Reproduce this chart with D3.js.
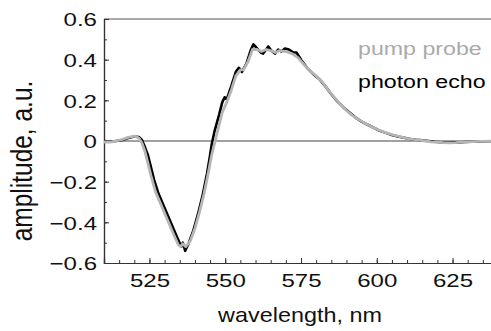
<!DOCTYPE html>
<html>
<head>
<meta charset="utf-8">
<script src="https://cdn.jsdelivr.net/npm/d3@7"></script>
<style>
  body { margin: 0; background: #fff; }
  text { font-family: "Liberation Sans", Arial, sans-serif; }
</style>
</head>
<body>
<div id="chart"></div>
<script>
// wavelength (nm) and amplitude
var echoWl = [510, 512, 514, 516, 518, 520, 521.5, 522.5, 523.5, 524.5, 525.5, 526.5, 528, 530, 532, 534, 535.5, 536, 536.8, 538, 539.5, 541, 542.5, 544, 545, 545.5, 546.5, 548, 549, 549.8, 550.5, 552, 553.5, 554.5, 555.5, 557, 558.5, 559.3, 560.5, 561.8, 562.5, 563.5, 564.2, 565.2, 566.4, 567.5, 568.5, 569.7, 571, 572.5, 573.5, 575, 577, 579, 581, 583, 585, 587, 589, 591, 593, 595, 597, 599, 601, 603, 605, 607, 609, 611, 613, 615, 617, 619, 621, 623, 625, 627, 629, 631, 633, 635, 638, 640];
var echoAmp = [0.0, -0.003, 0.0, 0.005, 0.015, 0.022, 0.02, 0.005, -0.03, -0.07, -0.13, -0.19, -0.26, -0.33, -0.40, -0.47, -0.52, -0.50, -0.54, -0.50, -0.44, -0.36, -0.27, -0.16, -0.07, -0.02, 0.05, 0.13, 0.19, 0.215, 0.205, 0.27, 0.34, 0.36, 0.34, 0.38, 0.45, 0.475, 0.455, 0.435, 0.43, 0.45, 0.465, 0.445, 0.43, 0.45, 0.44, 0.455, 0.45, 0.435, 0.435, 0.40, 0.36, 0.33, 0.305, 0.27, 0.23, 0.195, 0.165, 0.14, 0.115, 0.095, 0.08, 0.065, 0.05, 0.04, 0.03, 0.022, 0.016, 0.01, 0.006, 0.003, 0.0, -0.004, -0.006, -0.008, -0.006, -0.007, -0.005, -0.004, -0.003, -0.002, -0.001, -0.001];

var pumpWl = [510, 512, 514, 516, 518, 520, 521.5, 522.5, 523.5, 524.5, 525.5, 527, 529, 531, 533, 534.5, 535.3, 536, 537, 538.5, 540, 541.5, 543, 544.5, 545.5, 546.5, 547.5, 549, 550.5, 552, 553.5, 555, 556, 557.5, 559, 560.5, 562, 563.5, 565, 566.5, 568, 570, 572, 574, 576, 578, 580, 582, 584, 586, 588, 590, 592, 594, 596, 598, 600, 602, 604, 606, 608, 610, 612, 614, 616, 618, 620, 622, 624, 626, 628, 630, 632, 634, 636, 638, 640];
var pumpAmp = [-0.005, -0.005, 0.0, 0.008, 0.018, 0.024, 0.015, -0.01, -0.05, -0.11, -0.17, -0.25, -0.32, -0.39, -0.46, -0.51, -0.52, -0.505, -0.52, -0.49, -0.43, -0.35, -0.26, -0.15, -0.07, -0.01, 0.05, 0.14, 0.19, 0.25, 0.32, 0.35, 0.35, 0.39, 0.45, 0.45, 0.44, 0.45, 0.445, 0.435, 0.445, 0.44, 0.43, 0.41, 0.375, 0.345, 0.32, 0.29, 0.25, 0.215, 0.18, 0.15, 0.125, 0.105, 0.088, 0.072, 0.058, 0.046, 0.036, 0.027, 0.02, 0.013, 0.008, 0.004, 0.0, -0.004, -0.006, -0.008, -0.009, -0.008, -0.006, -0.004, -0.003, -0.002, -0.002, -0.001, -0.001];

var xTicks = [525, 550, 575, 600, 625];
var yTicks = [-0.6, -0.4, -0.2, 0, 0.2, 0.4, 0.6];
var yTickLabels = ["\u22120.6", "\u22120.4", "\u22120.2", "0", "0.2", "0.4", "0.6"];
var seriesNames = ["pump probe", "photon echo"];

var W = 491, H = 331;
var margin = { top: 19, left: 104, bottom: 68 };
var plotRight = 498;

var svg = d3.select("#chart").append("svg")
    .attr("width", W)
    .attr("height", H);

var x = d3.scaleLinear().domain([510, 640]).range([margin.left, plotRight]);
var y = d3.scaleLinear().domain([-0.6, 0.6]).range([H - margin.bottom, margin.top]);

// frame top + zero line
svg.append("line")
    .attr("x1", x(510)).attr("x2", x(640))
    .attr("y1", y(0.6)).attr("y2", y(0.6))
    .attr("stroke", "#555").attr("stroke-width", 1.2);
svg.append("line")
    .attr("x1", x(510)).attr("x2", x(640))
    .attr("y1", y(0)).attr("y2", y(0))
    .attr("stroke", "#444").attr("stroke-width", 1.2);

// minor ticks
var xMinor = d3.range(510, 641, 5);
var yMinor = d3.range(-6, 7).map(function (d) { return d / 10; });

var xAxis = svg.append("g")
    .attr("transform", "translate(0," + y(-0.6) + ")")
    .call(d3.axisBottom(x).tickValues(xMinor).tickSize(-3).tickFormat(""));
var xMajor = svg.append("g")
    .attr("transform", "translate(0," + y(-0.6) + ")")
    .call(d3.axisBottom(x).tickValues(xTicks).tickSize(-5).tickFormat(d3.format("d")));

var yAxis = svg.append("g")
    .attr("transform", "translate(" + x(510) + ",0)")
    .call(d3.axisLeft(y).tickValues(yMinor).tickSize(-3).tickFormat(""));
var yMajor = svg.append("g")
    .attr("transform", "translate(" + x(510) + ",0)")
    .call(d3.axisLeft(y).tickValues(yTicks).tickSize(-5)
      .tickFormat(function (d, i) { return yTickLabels[i]; }));

[xAxis, xMajor, yAxis, yMajor].forEach(function (g) {
  g.select(".domain").attr("stroke", "#333").attr("stroke-width", 1.2);
  g.selectAll(".tick line").attr("stroke", "#333").attr("stroke-width", 1);
});

xMajor.selectAll(".tick text")
    .attr("y", 0).attr("dy", 0)
    .attr("transform", "translate(0,24) scale(1.3,1)")
    .attr("font-size", "18.5px").attr("fill", "#111")
    .style("font-family", "'Liberation Sans', Arial, sans-serif");

yMajor.selectAll(".tick text")
    .attr("x", 0).attr("dy", "0.36em")
    .attr("transform", "translate(-7,0) scale(1.3,1)")
    .attr("font-size", "18.5px").attr("fill", "#111")
    .style("font-family", "'Liberation Sans', Arial, sans-serif");

// curves
var line = d3.line()
    .x(function (d) { return x(d[0]); })
    .y(function (d) { return y(d[1]); });

var echo = echoWl.map(function (d, i) { return [d, echoAmp[i]]; });
var pump = pumpWl.map(function (d, i) { return [d, pumpAmp[i]]; });

svg.append("path")
    .datum(echo)
    .attr("d", line)
    .attr("fill", "none")
    .attr("stroke", "#000")
    .attr("stroke-width", 2.6)
    .attr("stroke-linejoin", "round");

svg.append("path")
    .datum(pump)
    .attr("d", line)
    .attr("fill", "none")
    .attr("stroke", "#b5b5b5")
    .attr("stroke-width", 2.8)
    .attr("stroke-linejoin", "round");

// legend
svg.append("text")
    .attr("transform", "translate(358,55) scale(1.22,1)")
    .attr("font-size", "19px")
    .attr("fill", "#aaa")
    .text(seriesNames[0]);
svg.append("text")
    .attr("transform", "translate(358,88) scale(1.22,1)")
    .attr("font-size", "19px")
    .attr("fill", "#000")
    .text(seriesNames[1]);

// axis titles
svg.append("text")
    .attr("transform", "translate(300,322) scale(1.17,1)")
    .attr("text-anchor", "middle")
    .attr("font-size", "20px")
    .attr("fill", "#111")
    .text("wavelength, nm");

svg.append("text")
    .attr("transform", "translate(32,161) rotate(-90) scale(1,1.2)")
    .attr("text-anchor", "middle")
    .attr("font-size", "24.5px")
    .attr("fill", "#111")
    .text("amplitude, a.u.");
</script>
</body>
</html>
